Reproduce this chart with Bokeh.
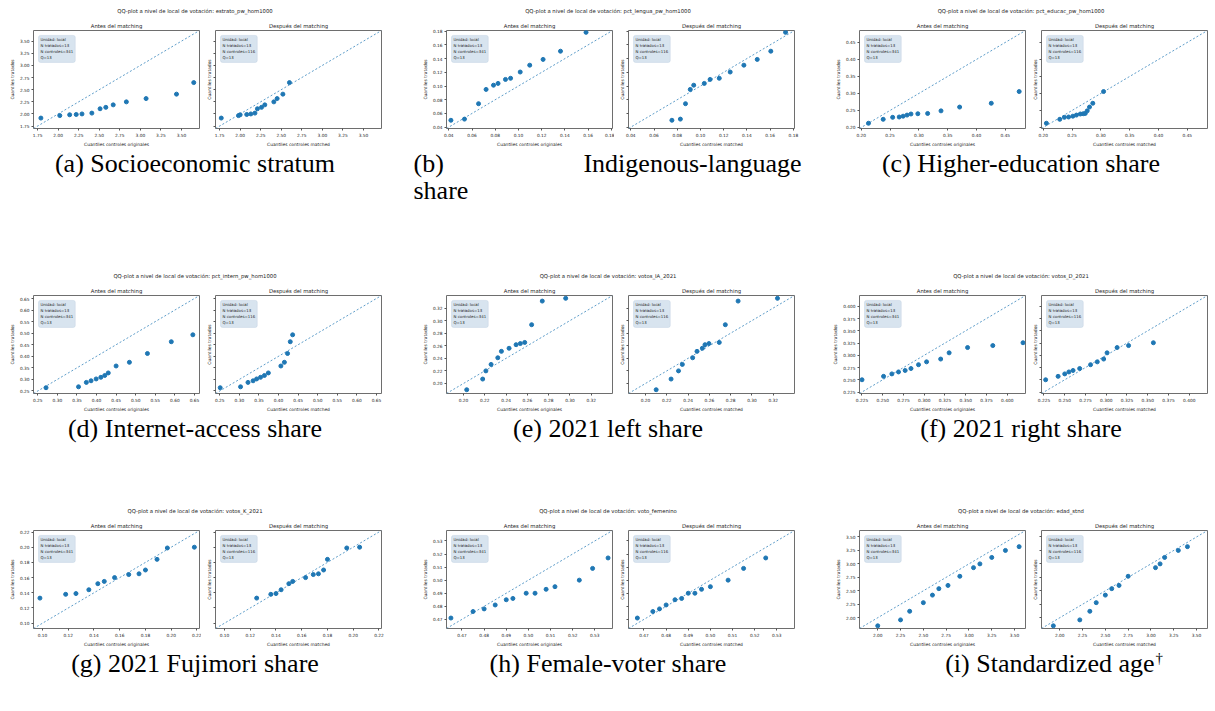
from bokeh.plotting import figure
from bokeh.layouts import row, column
from bokeh.models import Range1d, FixedTicker, PrintfTickFormatter, Label, Slope
from bokeh.embed import file_html
from bokeh.resources import INLINE

BLUE = "#1f77b4"
FONT = "DejaVu Sans"
SERIF = "Liberation Serif"

# ---------------- data ----------------
variables = ["estrato_pw_hom1000", "pct_lengua_pw_hom1000", "pct_educac_pw_hom1000",
             "pct_intern_pw_hom1000", "votos_IA_2021", "votos_D_2021",
             "votos_K_2021", "voto_femenino", "edad_stnd"]
captions = ["(a) Socioeconomic stratum", "(b) Indigenous-language share", "(c) Higher-education share",
            "(d) Internet-access share", "(e) 2021 left share", "(f) 2021 right share",
            "(g) 2021 Fujimori share", "(h) Female-voter share", "(i) Standardized age"]
n_treated = 13
n_controls_before = 341
n_controls_after = 116
n_quantiles = 13

# (a)
y_a = [1.915, 1.966, 1.983, 1.989, 2.000, 2.017, 2.107, 2.136, 2.187, 2.249, 2.317, 2.408, 2.646]
xb_a = [1.79, 2.02, 2.14, 2.22, 2.29, 2.41, 2.51, 2.58, 2.67, 2.83, 3.07, 3.44, 3.65]
xa_a = [1.77, 1.98, 2.00, 2.08, 2.13, 2.18, 2.21, 2.26, 2.30, 2.41, 2.45, 2.52, 2.60]
lim_a = [1.70, 3.72]
ticks_a = [1.75, 2.00, 2.25, 2.50, 2.75, 3.00, 3.25, 3.50]
# (b)
y_b = [0.050, 0.0517, 0.0742, 0.0950, 0.1012, 0.1038, 0.1096, 0.1113, 0.1204, 0.1304, 0.1388, 0.1508, 0.1783]
xb_b = [0.0418, 0.0535, 0.0656, 0.0721, 0.0785, 0.0824, 0.0888, 0.0932, 0.1015, 0.1097, 0.1212, 0.1362, 0.1582]
xa_b = [0.0754, 0.0827, 0.0871, 0.0912, 0.0942, 0.1033, 0.1083, 0.1162, 0.1256, 0.1374, 0.1489, 0.1606, 0.1733]
lim_b = [0.038, 0.181]
ticks_b = [0.04, 0.06, 0.08, 0.10, 0.12, 0.14, 0.16, 0.18]
# (c)
y_c = [0.2124, 0.2240, 0.2298, 0.2308, 0.2332, 0.2364, 0.2396, 0.2404, 0.2412, 0.2488, 0.2600, 0.2712, 0.3056]
xb_c = [0.2126, 0.2381, 0.2545, 0.2659, 0.2727, 0.2795, 0.2863, 0.2982, 0.3152, 0.3384, 0.3707, 0.4256, 0.4740]
xa_c = [0.2055, 0.2287, 0.2367, 0.2440, 0.2514, 0.2576, 0.2644, 0.2695, 0.2729, 0.2763, 0.2803, 0.2860, 0.3047]
lim_c = [0.197, 0.485]
ticks_c = [0.20, 0.25, 0.30, 0.35, 0.40, 0.45]
# (d)
y_d = [0.264, 0.268, 0.287, 0.294, 0.302, 0.309, 0.317, 0.328, 0.358, 0.374, 0.412, 0.463, 0.493]
xb_d = [0.271, 0.354, 0.374, 0.386, 0.399, 0.411, 0.421, 0.430, 0.450, 0.484, 0.530, 0.591, 0.646]
xa_d = [0.251, 0.303, 0.322, 0.335, 0.344, 0.354, 0.364, 0.374, 0.406, 0.415, 0.423, 0.430, 0.436]
lim_d = [0.239, 0.663]
ticks_d = [0.25, 0.30, 0.35, 0.40, 0.45, 0.50, 0.55, 0.60, 0.65]
# (e)
y_e = [0.190, 0.207, 0.220, 0.2303, 0.2409, 0.2511, 0.2560, 0.2617, 0.2635, 0.2653, 0.2935, 0.3311, 0.3355]
xb_e = [0.203, 0.218, 0.221, 0.2259, 0.2322, 0.2356, 0.2428, 0.2494, 0.2534, 0.2575, 0.2640, 0.2740, 0.2960]
xa_e = [0.210, 0.224, 0.231, 0.2346, 0.2443, 0.2484, 0.2534, 0.2559, 0.2596, 0.2693, 0.2750, 0.2870, 0.3240]
lim_e = [0.184, 0.340]
ticks_e = [0.20, 0.22, 0.24, 0.26, 0.28, 0.30, 0.32]
# (f)
y_f = [0.250, 0.257, 0.262, 0.266, 0.269, 0.273, 0.2808, 0.2866, 0.2923, 0.3050, 0.3158, 0.3198, 0.3256]
xb_f = [0.225, 0.251, 0.261, 0.269, 0.277, 0.284, 0.2931, 0.3028, 0.3198, 0.3300, 0.3522, 0.3826, 0.4190]
xa_f = [0.227, 0.242, 0.250, 0.255, 0.260, 0.268, 0.2811, 0.2892, 0.2969, 0.3010, 0.3131, 0.3269, 0.3568]
lim_f = [0.222, 0.422]
ticks_f = [0.225, 0.250, 0.275, 0.300, 0.325, 0.350, 0.375, 0.400]
# (g)
y_g = [0.133, 0.138, 0.139, 0.144, 0.152, 0.155, 0.160, 0.164, 0.165, 0.170, 0.184, 0.199, 0.200]
xb_g = [0.098, 0.118, 0.126, 0.136, 0.143, 0.148, 0.156, 0.167, 0.175, 0.180, 0.189, 0.197, 0.218]
xa_g = [0.125, 0.136, 0.140, 0.144, 0.150, 0.153, 0.163, 0.169, 0.173, 0.177, 0.180, 0.195, 0.205]
lim_g = [0.093, 0.222]
ticks_g = [0.10, 0.12, 0.14, 0.16, 0.18, 0.20, 0.22]
# (h)
y_h = [0.471, 0.476, 0.478, 0.481, 0.485, 0.486, 0.490, 0.490, 0.493, 0.495, 0.500, 0.509, 0.517]
xb_h = [0.465, 0.475, 0.480, 0.485, 0.490, 0.493, 0.499, 0.503, 0.508, 0.512, 0.523, 0.529, 0.536]
xa_h = [0.467, 0.474, 0.477, 0.480, 0.484, 0.487, 0.490, 0.493, 0.496, 0.500, 0.508, 0.515, 0.525]
lim_h = [0.463, 0.538]
ticks_h = [0.47, 0.48, 0.49, 0.50, 0.51, 0.52, 0.53]
# (i)
y_i = [1.85, 1.96, 2.12, 2.28, 2.42, 2.54, 2.60, 2.77, 2.93, 3.00, 3.12, 3.25, 3.32]
xb_i = [2.00, 2.25, 2.35, 2.50, 2.60, 2.67, 2.77, 2.90, 3.05, 3.12, 3.25, 3.40, 3.55]
xa_i = [1.93, 2.22, 2.33, 2.40, 2.50, 2.57, 2.65, 2.75, 3.05, 3.10, 3.15, 3.30, 3.40]
lim_i = [1.80, 3.62]
ticks_i = [2.00, 2.25, 2.50, 2.75, 3.00, 3.25, 3.50]

ys = [y_a, y_b, y_c, y_d, y_e, y_f, y_g, y_h, y_i]
xbs = [xb_a, xb_b, xb_c, xb_d, xb_e, xb_f, xb_g, xb_h, xb_i]
xas = [xa_a, xa_b, xa_c, xa_d, xa_e, xa_f, xa_g, xa_h, xa_i]
lims = [lim_a, lim_b, lim_c, lim_d, lim_e, lim_f, lim_g, lim_h, lim_i]
tickss = [ticks_a, ticks_b, ticks_c, ticks_d, ticks_e, ticks_f, ticks_g, ticks_h, ticks_i]
fmts = ["%.2f"] * 5 + ["%.3f"] + ["%.2f"] * 3

# ---------------- layout constants ----------------
BLOCK_W = 389
GAPS = [24, 24, -2]
FRAME_W, FRAME_H = 166, 98
TOP_B, BOT_B = 13, 22
SUP_H = 17
CAP_H = [115, 85, 50]
GRAY = "#222222"


def style_axis(ax, ticks, fmt, labels=True):
    if labels:
        ax.ticker = FixedTicker(ticks=ticks)
        ax.formatter = PrintfTickFormatter(format=fmt)
    else:
        ax.ticker = FixedTicker(ticks=[], minor_ticks=ticks)
    ax.axis_line_color = None
    ax.major_tick_out = 2
    ax.major_tick_in = 0
    ax.minor_tick_out = 2 if not labels else 0
    ax.minor_tick_in = 0
    ax.major_tick_line_color = "#555555"
    ax.minor_tick_line_color = "#555555"
    ax.major_label_text_font = FONT
    ax.major_label_text_font_size = "4.3px"
    ax.major_label_text_color = GRAY
    ax.major_label_standoff = 2
    ax.axis_label_text_font = FONT
    ax.axis_label_text_font_size = "4.4px"
    ax.axis_label_text_font_style = "normal"
    ax.axis_label_text_color = GRAY
    ax.axis_label_standoff = 2


def panel(xv, yv, lim, ticks, fmt, title, xlabel, nctrl, left, extra_right=0):
    lb = 33 if left else 14
    rb = (2 if left else 8) + extra_right
    p = figure(width=lb + FRAME_W + rb, height=TOP_B + FRAME_H + BOT_B,
               x_range=Range1d(lim[0], lim[1]), y_range=Range1d(lim[0], lim[1]),
               output_backend="svg", toolbar_location=None, title=title,
               min_border_left=lb, min_border_right=rb,
               min_border_top=TOP_B, min_border_bottom=BOT_B)
    p.title.align = "center"
    p.title.text_font = FONT
    p.title.text_font_size = "5.3px"
    p.title.text_font_style = "normal"
    p.title.text_color = GRAY
    p.title.standoff = 4
    p.xgrid.visible = False
    p.ygrid.visible = False
    p.outline_line_color = "#6e6e6e"
    p.outline_line_width = 1
    style_axis(p.xaxis[0], ticks, fmt, True)
    style_axis(p.yaxis[0], ticks, fmt, left)
    p.xaxis.axis_label = xlabel
    p.yaxis.axis_label = "Cuantiles tratados"
    p.add_layout(Slope(gradient=1, y_intercept=0, line_color=BLUE, line_dash="2 2",
                       line_width=0.8, line_alpha=0.9))
    p.scatter(xv, yv, size=4, color=BLUE)
    span = lim[1] - lim[0]
    p.add_layout(Label(x=lim[0] + 0.03 * span, y=lim[1] - 0.05 * span,
                       text=f"Unidad: local\nN tratados={n_treated}\nN controles={nctrl}\nQ={n_quantiles}",
                       text_font=FONT, text_font_size="3.9px", text_color=GRAY,
                       text_align="left", text_baseline="top",
                       background_fill_color="#d8e4ef", background_fill_alpha=1.0,
                       border_line_color="#c3d3e2", border_line_width=0.5,
                       padding=2, border_radius=2))
    return p


def strip(width, height, labels):
    p = figure(width=width, height=height, x_range=Range1d(0, width), y_range=Range1d(height, 0),
               output_backend="svg", toolbar_location=None, title=None, min_border=0,
               x_axis_type=None, y_axis_type=None)
    p.outline_line_color = None
    p.xgrid.visible = False
    p.ygrid.visible = False
    for lab in labels:
        p.add_layout(lab)
    return p


def cap_label(text, x, y, align="center", size="26px", baseline="middle"):
    return Label(x=x, y=y, text=text, text_font=SERIF, text_font_size=size, text_color="#000000",
                 text_align=align, text_baseline=baseline)


rows_layout = []
for r in range(3):
    sup_figs, panel_figs, cap_figs = [], [], []
    for c in range(3):
        k = r * 3 + c
        gap = GAPS[c]
        bw = BLOCK_W + gap
        sup_figs.append(strip(bw, SUP_H, [Label(
            x=BLOCK_W / 2, y=10, text=f"QQ-plot a nivel de local de votación: {variables[k]}",
            text_font=FONT, text_font_size="5.3px", text_color=GRAY,
            text_align="center", text_baseline="middle")]))
        panel_figs.append(panel(xbs[k], ys[k], lims[k], tickss[k], fmts[k], "Antes del matching",
                                "Cuantiles controles originales", n_controls_before, True))
        panel_figs.append(panel(xas[k], ys[k], lims[k], tickss[k], fmts[k], "Después del matching",
                                "Cuantiles controles matched", n_controls_after, False, gap))
        if k == 1:
            labs = [cap_label("(b)", 0, 13, "left"),
                    cap_label("Indigenous-language", BLOCK_W - 1, 13, "right"),
                    cap_label("share", 0, 40, "left")]
        elif k == 8:
            labs = [cap_label("(i) Standardized age", 328, 13, "right"),
                    cap_label("\u2020", 329, 7, "left", "15px")]
        else:
            labs = [cap_label(captions[k], BLOCK_W / 2, 13)]
        cap_figs.append(strip(bw, CAP_H[r], labs))
    rows_layout += [row(sup_figs, spacing=0), row(panel_figs, spacing=0), row(cap_figs, spacing=0)]

root = column(rows_layout, spacing=0)
open("out.html", "w").write(file_html(root, INLINE))
